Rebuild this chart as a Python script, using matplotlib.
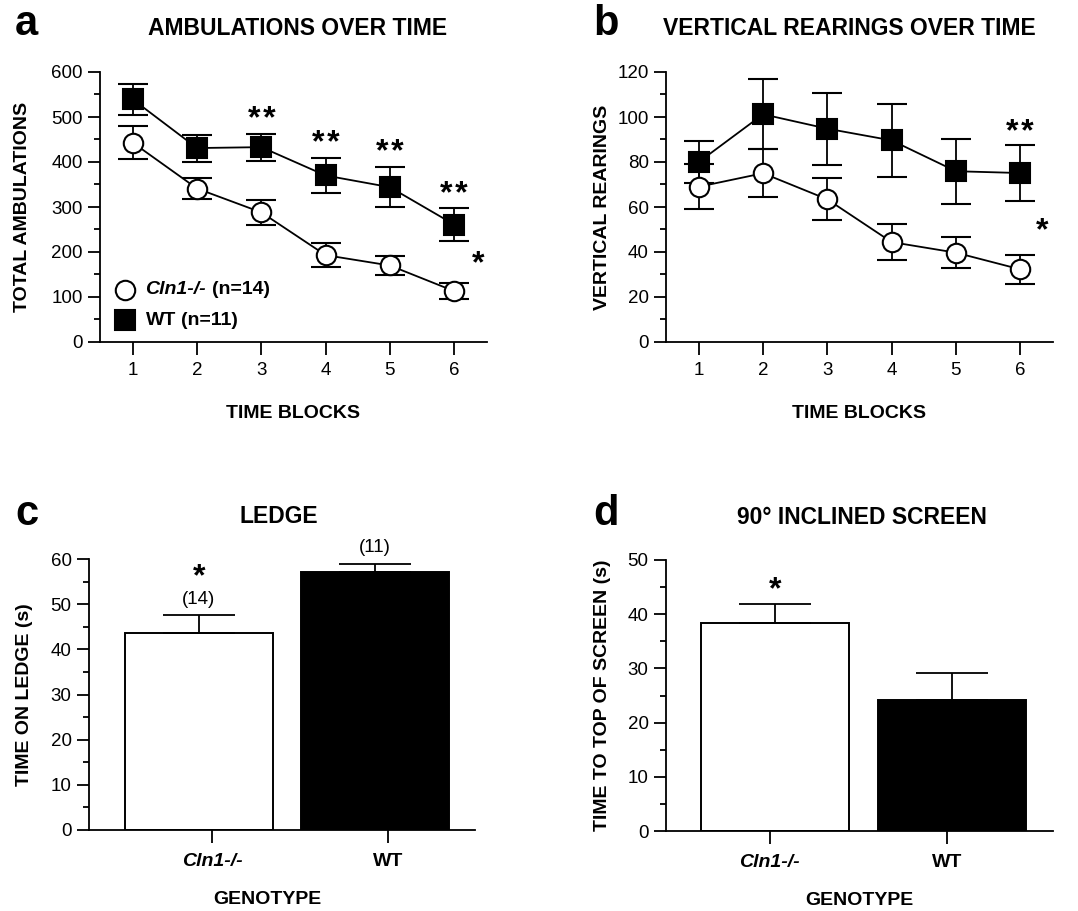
import numpy as np
import matplotlib
matplotlib.use("Agg")
import matplotlib.pyplot as plt
from matplotlib.lines import Line2D
from matplotlib.offsetbox import AnchoredOffsetbox, HPacker, VPacker, TextArea, DrawingArea

plt.rcParams['font.family'] = ['Liberation Sans', 'DejaVu Sans']

# --- data ---
blocks = [1, 2, 3, 4, 5, 6]

amb_ko = [443, 341, 288, 193, 170, 113]
amb_ko_err = [36, 24, 28, 27, 22, 18]
amb_wt = [539, 431, 433, 370, 344, 261]
amb_wt_err = [34, 30, 30, 39, 45, 36]
amb_sig = [3, 4, 5, 6]          # blocks marked **

rear_ko = [69, 75, 63.4, 44.4, 39.7, 32.3]
rear_ko_err = [10, 10.6, 9.3, 7.9, 7, 6.5]
rear_wt = [80, 101.2, 94.8, 89.6, 75.9, 75.1]
rear_wt_err = [9.5, 15.5, 16, 16.2, 14.5, 12.6]
rear_sig = [6]

genotypes = ['Cln1-/-', 'WT']
n_mice = [14, 11]
ledge = [43.6, 57.1]
ledge_err = [3.9, 1.9]
ledge_sig = [True, False]
screen = [38.3, 24.1]
screen_err = [3.6, 5.1]
screen_sig = [True, False]

W, H = 1078, 911
fig = plt.figure(figsize=(W / 100, H / 100), dpi=100)

STAR2 = '*\u200a*'


def px_axes(left, top, right, bottom):
    return fig.add_axes([left / W, 1 - bottom / H, (right - left) / W, (bottom - top) / H])


def style(ax, ymax, major, minor):
    for s in ['top', 'right']:
        ax.spines[s].set_visible(False)
    for s in ['left', 'bottom']:
        ax.spines[s].set_linewidth(1.3)
    ax.set_ylim(0, ymax)
    ax.set_yticks(np.arange(0, ymax + 1e-9, major))
    ax.set_yticks(np.arange(0, ymax + 1e-9, minor), minor=True)
    ax.tick_params(axis='y', which='major', length=9, width=1.3, pad=3.5, labelsize=13.5)
    ax.tick_params(axis='y', which='minor', length=4.5, width=1.3)
    ax.tick_params(axis='x', length=9.5, width=1.3, pad=5, labelsize=13.5)


def fig_text(x, y, s, **kw):
    fig.text(x / W, 1 - y / H, s, **kw)


def line_panel(ax, ko, ko_err, wt, wt_err, sig, star_off, ymax, major, minor):
    kw = dict(color='black', lw=1.3, capsize=11, capthick=1.3, elinewidth=1.3,
              ms=14, mec='black', mew=1.5)
    ax.errorbar(blocks, wt, yerr=wt_err, marker='s', mfc='black', **kw)
    ax.errorbar(blocks, ko, yerr=ko_err, marker='o', mfc='white', **kw)
    for b in sig:
        i = blocks.index(b)
        ax.text(b, wt[i] + wt_err[i] + star_off, STAR2, ha='center', va='center',
                fontsize=23, fontweight='bold')
    style(ax, ymax, major, minor)
    ax.set_xlim(0.49, 6.51)
    ax.set_xticks(blocks)
    ax.set_xlabel('TIME BLOCKS', fontsize=14, fontweight='bold')
    ax.xaxis.set_label_coords(0.5, -0.265)
    ax.xaxis.label.set_va('center')


# --- a ---
ax_a = px_axes(100, 72, 487, 342)
line_panel(ax_a, amb_ko, amb_ko_err, amb_wt, amb_wt_err, amb_sig, 30, 600, 100, 50)
ax_a.text(6.37, 172, '*', ha='center', va='center', fontsize=23, fontweight='bold')
ax_a.set_ylabel('TOTAL AMBULATIONS', fontsize=14, fontweight='bold', va='center')
ax_a.yaxis.set_label_coords(-0.2, 0.5)


def legend_row(marker, face, parts):
    da = DrawingArea(16, 14, 0, 0)
    da.add_artist(Line2D([8], [7], marker=marker, ms=14, mfc=face, mec='black',
                         mew=1.5, ls='none'))
    texts = [TextArea(s, textprops=dict(fontsize=14, fontweight='bold', fontstyle=st))
             for s, st in parts]
    return HPacker(children=[da, HPacker(children=texts, pad=0, sep=4)],
                   align='center', pad=0, sep=7)


rows = VPacker(children=[
    legend_row('o', 'white', [('Cln1-/-', 'italic'), ('(n=14)', 'normal')]),
    legend_row('s', 'black', [('WT', 'normal'), ('(n=11)', 'normal')]),
], align='left', pad=0, sep=8)
leg = AnchoredOffsetbox(loc='lower left', child=rows, pad=0, borderpad=0, frameon=False,
                        bbox_to_anchor=(0.035, 0.045), bbox_transform=ax_a.transAxes)
ax_a.add_artist(leg)

# --- b ---
ax_b = px_axes(666, 72, 1053, 342)
line_panel(ax_b, rear_ko, rear_ko_err, rear_wt, rear_wt_err, rear_sig, 5.2, 120, 20, 10)
ax_b.text(6.34, 49, '*', ha='center', va='center', fontsize=23, fontweight='bold')
ax_b.set_ylabel('VERTICAL REARINGS', fontsize=14, fontweight='bold', va='center')
ax_b.yaxis.set_label_coords(-0.163, 0.5)


def bar_panel(ax, vals, errs, sig, ymax, major, minor, show_n, tick_shift, ylabel):
    pos = np.arange(len(vals))
    ax.bar(pos, vals, width=0.84, color=['white', 'black'], edgecolor='black', lw=1.4)
    ax.errorbar(pos, vals, yerr=[np.zeros(len(vals)), errs], fmt='none', ecolor='black',
                elinewidth=1.3, capsize=26, capthick=1.3)
    for p, v, e, s, n in zip(pos, vals, errs, sig, n_mice):
        top = v + e
        if show_n:
            ax.text(p, top + 1.6, '(%d)' % n, ha='center', va='bottom', fontsize=13.5)
            top += 5.5
        if s:
            ax.text(p, top - 0.3, '*', ha='center', va='bottom', fontsize=23,
                    fontweight='bold')
    style(ax, ymax, major, minor)
    ax.set_xlim(-0.625, 1.57)
    ax.set_xticks(pos + tick_shift)
    ax.set_xticklabels(genotypes, fontsize=14, fontweight='bold')
    ax.get_xticklabels()[0].set_fontstyle('italic')
    ax.tick_params(axis='x', pad=7)
    ax.set_xlabel('GENOTYPE', fontsize=14, fontweight='bold', va='center')
    ax.set_ylabel(ylabel, fontsize=14, fontweight='bold', va='center')


# --- c ---
ax_c = px_axes(89, 559, 475, 830)
bar_panel(ax_c, ledge, ledge_err, ledge_sig, 60, 10, 5, True, 0.074, 'TIME ON LEDGE (s)')
ax_c.xaxis.set_label_coords(0.461, -0.258)
ax_c.yaxis.set_label_coords(-0.166, 0.5)

# --- d ---
ax_d = px_axes(666, 560, 1053, 831)
bar_panel(ax_d, screen, screen_err, screen_sig, 50, 10, 5, False, -0.03,
          'TIME TO TOP OF SCREEN (s)')
ax_d.set_xlim(-0.616, 1.57)
ax_d.xaxis.set_label_coords(0.5, -0.255)
ax_d.yaxis.set_label_coords(-0.163, 0.5)

# panel letters and titles
for x, y, s in [(15, 35, 'a'), (593, 35, 'b'), (15, 525, 'c'), (593, 525, 'd')]:
    fig_text(x, y, s, fontsize=30, fontweight='bold', ha='left', va='baseline')
for x, y, s in [(298, 35, 'AMBULATIONS OVER TIME'), (849, 35, 'VERTICAL REARINGS OVER TIME'),
                (279, 523, 'LEDGE'), (862, 524, '90\u00b0 INCLINED SCREEN')]:
    fig_text(x, y, s, fontsize=16.5, fontweight='bold', ha='center', va='baseline')

fig.savefig('out.png', dpi=100)
